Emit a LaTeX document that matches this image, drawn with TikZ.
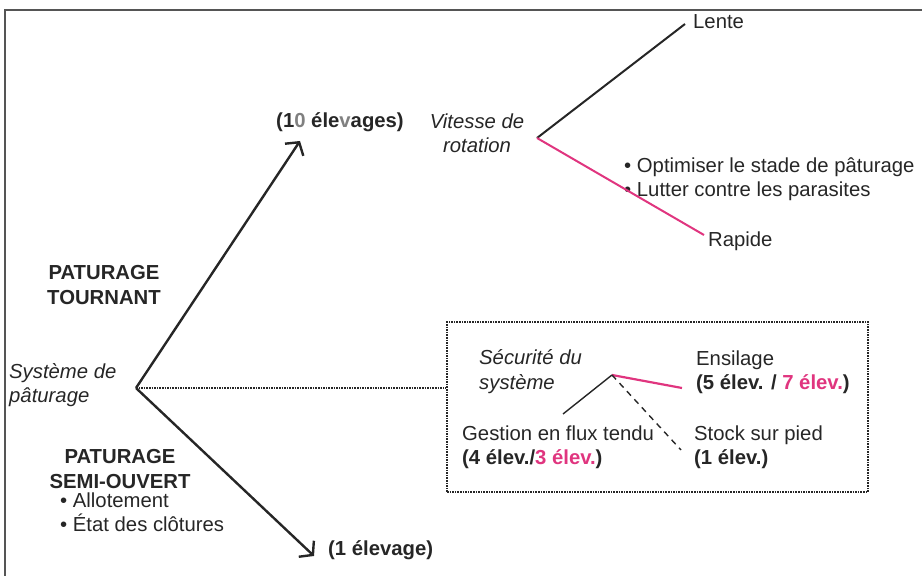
\documentclass[tikz,border=0pt]{standalone}
\usepackage{fontspec}
\setmainfont{Liberation Sans}
\usepackage{xcolor}
\usetikzlibrary{arrows.meta}

\definecolor{ink}{HTML}{262626}
\definecolor{rose}{HTML}{E0357F}
\definecolor{frame}{HTML}{555555}

\begin{document}
\begin{tikzpicture}[x=1pt,y=1pt,>={Straight Barb[length=9pt,width=22pt]},
	txt/.style={inner sep=0pt,text=ink,align=left,font=\fontsize{20.3}{24.5}\selectfont},
	ital/.style={txt,font=\fontsize{20.3}{24.5}\selectfont\itshape},
	bld/.style={txt,align=center,font=\fontsize{20.3}{24.5}\selectfont\bfseries}]
	\useasboundingbox (0,0) rectangle (922,576);
	\draw [frame, line width=2pt] (5,-10) rectangle (940,566);

	% main tree
	\coordinate (root) at (136,188);
	\coordinate (up)   at (300,435);
	\coordinate (down) at (314,20);
	\node (sys)  at (9,191)   [ital, anchor=west] {Système de\\pâturage};
	\node (tour) at (104,291) [bld] {PATURAGE\\TOURNANT};
	\node (semi) at (120,107) [bld] {PATURAGE\\SEMI-OUVERT};
	\node (semib) at (60,64)  [txt, anchor=west] {• Allotement\\• État des clôtures};
	\node (n10)  at (340,454) [bld] {(1\textcolor{gray}{0} éle\textcolor{gray}{v}ages)};
	\node (n1)   at (328,26)  [bld, anchor=west] {(1 élevage)};

	\draw [->, ink, line width=2.4pt] (root) -- (up);
	\draw [->, ink, line width=2.4pt] (root) -- (down);

	% vitesse de rotation
	\node (vit)   at (477,443) [ital, align=center] {Vitesse de\\rotation};
	\coordinate (rot) at (537,438);
	\coordinate (lenteend)  at (685,552);
	\coordinate (rapideend) at (704,341);
	\node (lente)  at (693,554) [txt, anchor=west] {Lente};
	\node (rapide) at (708,335) [txt, anchor=west] {Rapide};
	\node (rapb)   at (624,397) [txt, anchor=west] {• Optimiser le stade de pâturage\\• Lutter contre les parasites};

	\draw [ink, line width=2pt]  (rot) -- (lenteend);
	\draw [rose, line width=2pt] (rot) -- (rapideend);

	% securite du systeme
	\node (box) at (657.5,169) [draw=ink, densely dotted, line width=1.6pt,
		minimum width=421pt, minimum height=170pt, inner sep=0pt] {};
	\draw [ink, densely dotted, line width=1.6pt] (root) -- (box.west |- root);

	\node (secu)  at (479,204.5) [ital, anchor=west] {Sécurité du\\système};
	\coordinate (sec) at (612,201);
	\coordinate (ensend)   at (682,188);
	\coordinate (gestend)  at (563,162);
	\coordinate (stockend) at (681,126);
	\node (ens)   at (696,203.5) [txt, anchor=west] {Ensilage\\\textbf{(5 élev. / \textcolor{rose}{7 élev.})}};
	\node (gest)  at (462,128.5) [txt, anchor=west] {Gestion en flux tendu\\\textbf{(4 élev./\textcolor{rose}{3 élev.})}};
	\node (stock) at (694,128.5) [txt, anchor=west] {Stock sur pied\\\textbf{(1 élev.)}};

	\draw [rose, line width=2.2pt] (sec) -- (ensend);
	\draw [ink, line width=1.4pt]  (sec) -- (gestend);
	\draw [ink, dashed, dash pattern=on 6pt off 5pt, line width=1.4pt] (sec) -- (stockend);
\end{tikzpicture}
\end{document}
